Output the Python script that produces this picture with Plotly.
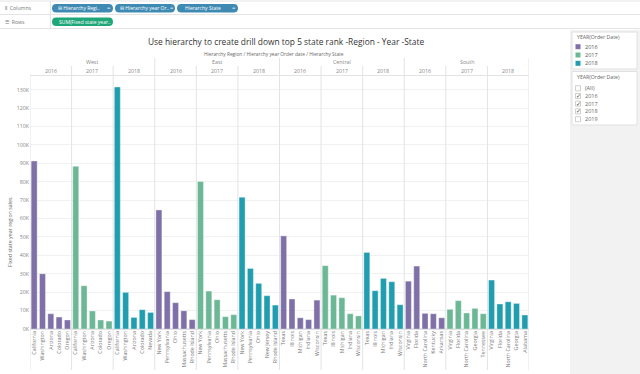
import plotly.graph_objects as go

# ---------------- data ----------------
regions = ["West", "East", "Central", "South"]
years = ["2016", "2017", "2018"]

west_states = [
    ["California", "Washington", "Arizona", "Colorado", "Oregon"],
    ["California", "Washington", "Arizona", "Colorado", "Oregon"],
    ["California", "Washington", "Arizona", "Colorado", "Nevada"],
]
west_sales = [
    [91300, 30000, 8300, 6500, 4900],
    [88400, 23500, 9800, 4900, 4300],
    [131500, 19900, 6300, 10500, 9000],
]
east_states = [
    ["New York", "Pennsylvania", "Ohio", "Massachusetts", "Rhode Island"],
    ["New York", "Pennsylvania", "Ohio", "Massachusetts", "Rhode Island"],
    ["New York", "Pennsylvania", "Ohio", "New Jersey", "Rhode Island"],
]
east_sales = [
    [64700, 20300, 14300, 9900, 5100],
    [80100, 20600, 15900, 6700, 7800],
    [71600, 32900, 24800, 18100, 13000],
]
central_states = [
    ["Texas", "Illinois", "Michigan", "Indiana", "Wisconsin"],
    ["Texas", "Illinois", "Michigan", "Indiana", "Wisconsin"],
    ["Texas", "Illinois", "Michigan", "Indiana", "Wisconsin"],
]
central_sales = [
    [50600, 16300, 6100, 5100, 15700],
    [34400, 18400, 17000, 8300, 7100],
    [41600, 20800, 27500, 25700, 13200],
]
south_states = [
    ["Virginia", "Florida", "North Carolina", "Kentucky", "Arkansas"],
    ["Virginia", "Florida", "North Carolina", "Georgia", "Tennessee"],
    ["Virginia", "Florida", "North Carolina", "Georgia", "Alabama"],
]
south_sales = [
    [26000, 34200, 8500, 8300, 6100],
    [10700, 15400, 8700, 11200, 8300],
    [26600, 13600, 14800, 13900, 7600],
]

y_tick_values = [i * 10000 for i in range(14)]
y_tick_labels = ["0K", "10K", "20K", "30K", "40K", "50K", "60K", "70K",
                 "80K", "90K", "100K", "110K", "120K", "130K"]

year_colors = {"2016": "#7f71a8", "2017": "#6cb896", "2018": "#209eb0"}

# ---------------- build ----------------
region_states = [west_states, east_states, central_states, south_states]
region_sales = [west_sales, east_sales, central_sales, south_sales]

W, H = 640, 374
ML, MR, MT, MB = 30, 111, 78, 45
PW = W - ML - MR
PH = H - MT - MB


def X(px):
    return (px - ML) / PW


def Y(py):
    return (H - MB - py) / PH


FONT = "Open Sans"
fig = go.Figure()

tickvals, ticktext = [], []
idx = 0
group_starts = []
for r, reg in enumerate(regions):
    for yi, yr in enumerate(years):
        group_starts.append(idx)
        xs = list(range(idx, idx + len(region_states[r][yi])))
        fig.add_trace(go.Bar(
            x=xs, y=region_sales[r][yi],
            marker=dict(color=year_colors[yr],
                        line=dict(color="rgba(255,255,255,0.45)", width=0.8)),
            showlegend=False, hoverinfo="y",
        ))
        tickvals += xs
        ticktext += region_states[r][yi]
        idx += len(xs)
n_total = idx

fig.update_layout(
    width=W, height=H,
    margin=dict(l=ML, r=MR, t=MT, b=MB, autoexpand=False),
    paper_bgcolor="white", plot_bgcolor="white",
    bargap=0.28,
    font=dict(family=FONT, color="#666"),
    xaxis=dict(range=[-0.5, n_total - 0.5], tickmode="array",
               tickvals=tickvals, ticktext=ticktext, tickangle=-90,
               tickfont=dict(size=5.3, color="#777"), showgrid=False,
               zeroline=False, showline=False, ticks="", automargin=False),
    yaxis=dict(range=[0, 136400], tickmode="array", tickvals=y_tick_values,
               ticktext=y_tick_labels, tickfont=dict(size=5.3, color="#888"),
               showgrid=True, gridcolor="#f1f1f1", gridwidth=1,
               zeroline=True, zerolinecolor="#e2e2e2", showline=False, ticks="",
               automargin=False),
)

shapes = []
annotations = []


def note(x, y, text, size=5.5, color="#666", xanchor="center", xref="paper", **kw):
    annotations.append(dict(xref=xref, yref="paper", x=x, y=y, text=text,
                            showarrow=False, xanchor=xanchor, yanchor="middle",
                            font=dict(size=size, color=color, family=FONT), **kw))


# dividers
for g, s in enumerate(group_starts):
    if g == 0:
        continue
    top = Y(58) if g % 3 == 0 else Y(66)
    shapes.append(dict(type="line", xref="x", yref="paper", x0=s - 0.5, x1=s - 0.5,
                       y0=Y(370), y1=top, line=dict(color="#e3e3e3", width=1)))
for xv, top in [(-0.5, Y(75.5)), (n_total - 0.5, Y(58))]:
    shapes.append(dict(type="line", xref="x", yref="paper", x0=xv, x1=xv,
                       y0=Y(370), y1=top, line=dict(color="#e3e3e3", width=1)))
shapes.append(dict(type="line", xref="x", yref="paper", x0=-0.5, x1=n_total - 0.5,
                   y0=Y(75.5), y1=Y(75.5), line=dict(color="#e3e3e3", width=1)))

# headers
for r, reg in enumerate(regions):
    note(group_starts[r * 3] + 7, Y(62), reg, size=5.3, color="#888", xref="x")
for g, s in enumerate(group_starts):
    note(s + 2, Y(70.5), years[g % 3], size=5.3, color="#888", xref="x")

note(X(286), Y(42), "Use hierarchy to create drill down top 5 state rank -Region - Year -State",
     size=8.4, color="#333")
note(X(274), Y(53.5), "Hierarchy Region / Hierarchy year Order date / Hierarchy State",
     size=4.8, color="#666")
note(X(10), Y(232), "Fixed state year region sales", size=5.3, color="#666", textangle=-90)

# ---- top shelf ----
for py in [1, 14.5, 28.5]:
    shapes.append(dict(type="line", xref="paper", yref="paper", x0=X(0), x1=X(640),
                       y0=Y(py), y1=Y(py), line=dict(color="#e4e4e4", width=1)))
shapes.append(dict(type="line", xref="paper", yref="paper", x0=X(50.5), x1=X(50.5),
                   y0=Y(1), y1=Y(28.5), line=dict(color="#e4e4e4", width=1)))


def pill(x0, x1, y0, y1, color):
    r = (y1 - y0) / 2
    a, b = X(x0), X(x1)
    ra = r / PW
    t, bt = Y(y0), Y(y1)
    mid = (t + bt) / 2
    path = (f"M {a+ra},{t} L {b-ra},{t} Q {b},{t} {b},{mid} Q {b},{bt} {b-ra},{bt} "
            f"L {a+ra},{bt} Q {a},{bt} {a},{mid} Q {a},{t} {a+ra},{t} Z")
    return dict(type="path", xref="paper", yref="paper", path=path,
                fillcolor=color, line=dict(width=0), layer="below")


pill_blue = "#3f8ab3"
pill_green = "#1fa77a"
shapes += [pill(52, 113, 4, 12.5, pill_blue), pill(115, 175, 4, 12.5, pill_blue),
           pill(177, 238, 4, 12.5, pill_blue), pill(52, 113, 17.5, 26, pill_green)]
for x0, txt in [(56, "⊟ Hierarchy Regi.."), (118, "⊟ Hierarchy year Or.."),
                (183, "Hierarchy State")]:
    note(X(x0), Y(8.3), txt, size=5.0, color="white", xanchor="left")
for x0 in [105, 168, 230]:
    note(X(x0), Y(8.3), "≡", size=5.5, color="white", xanchor="left")
note(X(57), Y(21.8), "SUM(Fixed state year..", size=5.0, color="white", xanchor="left")
note(X(3), Y(8), "⦀  Columns", size=5.2, color="#777", xanchor="left")
note(X(3), Y(21.8), "☰  Rows", size=5.2, color="#777", xanchor="left")

# ---- right panel ----
shapes.append(dict(type="rect", xref="paper", yref="paper", x0=X(570), x1=X(640),
                   y0=Y(374), y1=Y(30), fillcolor="#f2f2f2", line=dict(width=0), layer="below"))
for y0, y1 in [(32, 69), (71.5, 125)]:
    shapes.append(dict(type="rect", xref="paper", yref="paper", x0=X(572), x1=X(637),
                       y0=Y(y1), y1=Y(y0), fillcolor="white",
                       line=dict(color="#e0e0e0", width=1), layer="below"))
for py in [37, 77.3]:
    note(X(575), Y(py), "YEAR(Order Date)", size=5.2, color="#666", xanchor="left")
for yr, py in zip(years, [46.7, 55, 63.3]):
    shapes.append(dict(type="rect", xref="paper", yref="paper", x0=X(575.5), x1=X(580.5),
                       y0=Y(py + 2.5), y1=Y(py - 2.5), fillcolor=year_colors[yr],
                       line=dict(width=0)))
    note(X(583), Y(py), yr, size=5.5, color="#555", xanchor="left")

filter_items = ["(All)", "2016", "2017", "2018", "2019"]
filter_checked = [False, True, True, True, False]
for item, chk, py in zip(filter_items, filter_checked, [88.3, 96, 103.6, 111.4, 119.2]):
    shapes.append(dict(type="rect", xref="paper", yref="paper", x0=X(575.5), x1=X(580.5),
                       y0=Y(py + 2.5), y1=Y(py - 2.5), fillcolor="white",
                       line=dict(color="#bbb", width=0.7)))
    if chk:
        note(X(578), Y(py), "✓", size=5.5, color="#444")
    note(X(583), Y(py), item, size=5.5, color="#666", xanchor="left")

fig.update_layout(shapes=shapes, annotations=annotations)
fig.write_html("out.html", config={"displayModeBar": False},
               post_script="document.body.style.margin='0';")
